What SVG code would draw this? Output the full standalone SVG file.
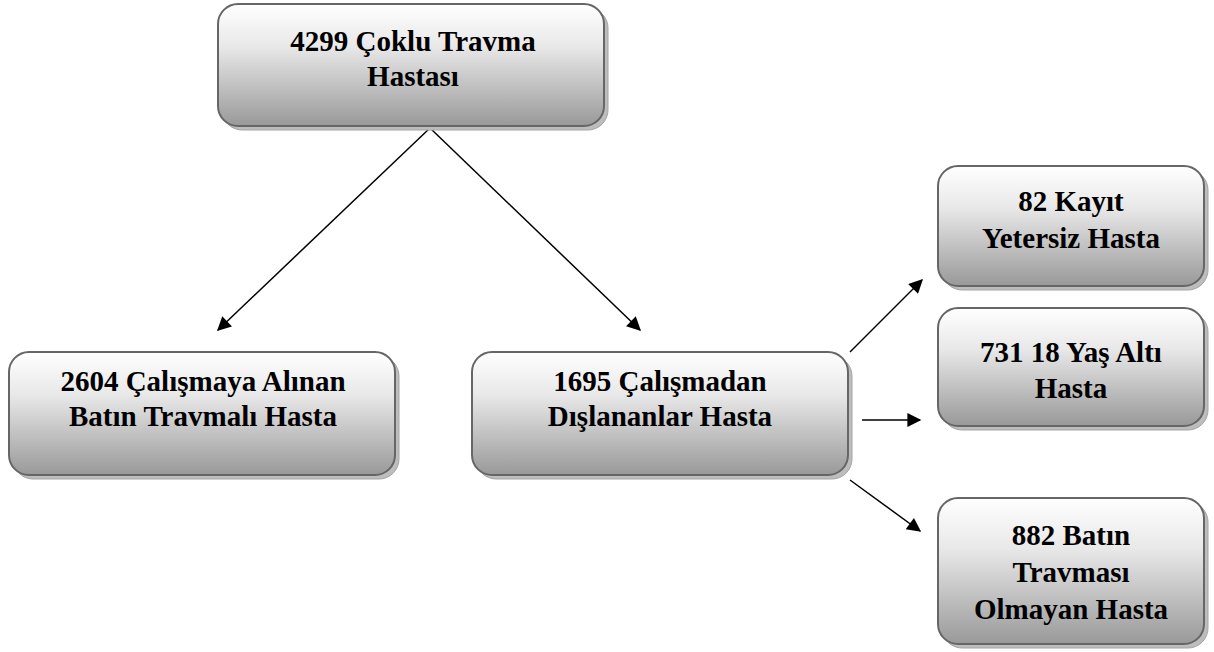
<svg xmlns="http://www.w3.org/2000/svg" width="1214" height="652" viewBox="0 0 1214 652">
<style>
text{font-weight:700;font-size:29px;text-anchor:middle;fill:#000;}
.sh{fill:#bdbdbd;stroke:#a5a5a5;stroke-width:1;}
.bx{fill:url(#g);stroke:#666;stroke-width:2;}
.c{stroke:#000;stroke-width:1.5;fill:none;marker-end:url(#arrL);}
</style>
<defs>
<linearGradient id="g" x1="0" y1="0" x2="0" y2="1">
<stop offset="0" stop-color="#ffffff"/>
<stop offset="0.35" stop-color="#e8e8e8"/>
<stop offset="1" stop-color="#999999"/>
</linearGradient>
<marker id="arrL" viewBox="0 0 10 10" refX="9" refY="5" markerWidth="18" markerHeight="14" markerUnits="userSpaceOnUse" orient="auto">
<path d="M0 0L10 5L0 10z" fill="#000"/>
</marker>
</defs>
<rect width="1214" height="652" fill="#fff"/>
<g id="connectors">
<line class="c" x1="430" y1="128" x2="218" y2="330"/>
<line class="c" x1="430" y1="128" x2="640" y2="330"/>
<line class="c" x1="850" y1="352" x2="922" y2="280"/>
<line class="c" x1="862" y1="420" x2="920" y2="420"/>
<line class="c" x1="850" y1="480" x2="920" y2="531"/>
</g>
<g id="n1">
<rect class="sh" x="222" y="8" width="386" height="122" rx="20"/>
<rect class="bx" x="218" y="4" width="386" height="122" rx="20"/>
<text font-family="Times New Roman" x="413" y="51">4299 Çoklu Travma</text>
<text font-family="Times New Roman" x="413" y="86">Hastası</text>
</g>
<g id="n2">
<rect class="sh" x="13" y="356" width="386" height="123" rx="20"/>
<rect class="bx" x="9" y="352" width="386" height="123" rx="20"/>
<text font-family="Times New Roman" x="203" y="391">2604 Çalışmaya Alınan</text>
<text font-family="Times New Roman" x="203" y="426">Batın Travmalı Hasta</text>
</g>
<g id="n3">
<rect class="sh" x="476" y="356" width="376" height="123" rx="20"/>
<rect class="bx" x="472" y="352" width="376" height="123" rx="20"/>
<text font-family="Times New Roman" x="660" y="391">1695 Çalışmadan</text>
<text font-family="Times New Roman" x="660" y="426">Dışlananlar Hasta</text>
</g>
<g id="n4">
<rect class="sh" x="942" y="170" width="266" height="120" rx="20"/>
<rect class="bx" x="938" y="166" width="266" height="120" rx="20"/>
<text font-family="Times New Roman" x="1071" y="211">82 Kayıt</text>
<text font-family="Times New Roman" x="1071" y="248">Yetersiz Hasta</text>
</g>
<g id="n5">
<rect class="sh" x="942" y="312" width="266" height="118" rx="20"/>
<rect class="bx" x="938" y="308" width="266" height="118" rx="20"/>
<text font-family="Times New Roman" x="1071" y="362">731 18 Yaş Altı</text>
<text font-family="Times New Roman" x="1071" y="398">Hasta</text>
</g>
<g id="n6">
<rect class="sh" x="942" y="502" width="266" height="146" rx="20"/>
<rect class="bx" x="938" y="498" width="266" height="146" rx="20"/>
<text font-family="Times New Roman" x="1071" y="545">882 Batın</text>
<text font-family="Times New Roman" x="1071" y="582">Travması</text>
<text font-family="Times New Roman" x="1071" y="619">Olmayan Hasta</text>
</g>
</svg>
